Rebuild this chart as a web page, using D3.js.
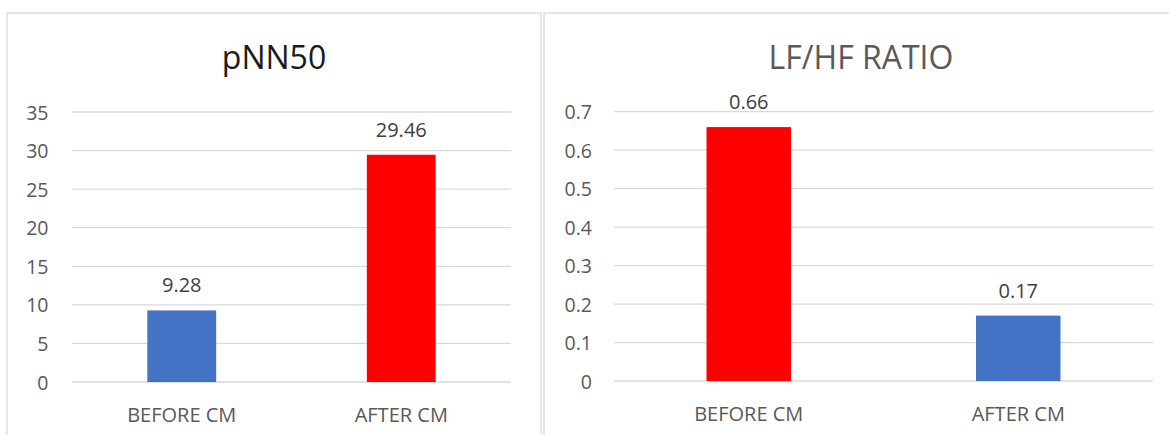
<!DOCTYPE html>
<html>
<head>
<meta charset="utf-8">
<script src="https://cdn.jsdelivr.net/npm/d3@7"></script>
<style>
  html, body { margin: 0; padding: 0; background: #fff; }
  svg { display: block; }
  text { font-family: "Open Sans", "Liberation Sans", sans-serif; }
</style>
</head>
<body>
<svg id="chart" width="1169" height="435"></svg>
<script>
// ---- data ----
const categories = ["BEFORE CM", "AFTER CM"];

const pnn50Title = "pNN50";
const pnn50Values = [9.28, 29.46];
const pnn50Colors = ["#4472C4", "#FF0000"];
const pnn50Ticks = [0, 5, 10, 15, 20, 25, 30, 35];

const lfhfTitle = "LF/HF RATIO";
const lfhfValues = [0.66, 0.17];
const lfhfColors = ["#FF0000", "#4472C4"];
const lfhfTicks = [0, 0.1, 0.2, 0.3, 0.4, 0.5, 0.6, 0.7];

// ---- layout ----
const svg = d3.select("#chart");
const gridColor = "#d9d9d9";

function panel(cfg) {
  const g = svg.append("g");
  // chart border
  g.append("rect")
    .attr("x", cfg.box[0]).attr("y", cfg.box[1])
    .attr("width", cfg.box[2]).attr("height", cfg.box[3])
    .attr("fill", "#fff").attr("stroke", gridColor).attr("stroke-width", 1.3);

  // Excel style: bar width = band / (1 + gap width 219%)
  const xb = d3.scaleBand().domain(categories).range(cfg.xr).padding(0);
  const barW = xb.bandwidth() / 3.19;
  const y = d3.scaleLinear().domain([0, d3.max(cfg.ticks)]).range(cfg.yr);

  // gridlines
  g.append("g").selectAll("line").data(cfg.ticks).join("line")
    .attr("x1", cfg.xr[0]).attr("x2", cfg.xr[1])
    .attr("y1", d => y(d)).attr("y2", d => y(d))
    .attr("stroke", gridColor).attr("stroke-width", 1.3);

  // y axis labels
  const yAxis = d3.axisLeft(y).tickValues(cfg.ticks).tickSize(0).tickPadding(0).tickFormat(cfg.fmt);
  const ya = g.append("g").attr("transform", `translate(${cfg.ylabX},0)`).call(yAxis);
  ya.select(".domain").remove();
  ya.selectAll("text")
    .attr("fill", "#595959").attr("font-size", "19.5px")
    .attr("font-family", '"Open Sans", "Liberation Sans", sans-serif')
    .attr("dy", "0.36em");

  // bars
  g.append("g").selectAll("rect").data(cfg.values).join("rect")
    .attr("x", (d, i) => xb(categories[i]) + xb.bandwidth() / 2 - barW / 2)
    .attr("width", barW)
    .attr("y", d => y(d))
    .attr("height", d => y(0) - y(d))
    .attr("fill", (d, i) => cfg.colors[i]);

  // data labels
  g.append("g").selectAll("text").data(cfg.values).join("text")
    .attr("x", (d, i) => xb(categories[i]) + xb.bandwidth() / 2)
    .attr("y", d => y(d) - 18)
    .attr("text-anchor", "middle")
    .attr("fill", "#404040").attr("font-size", "20px")
    .text(d => d3.format(".2f")(d));

  // x axis labels
  const xAxis = d3.axisBottom(xb).tickSize(0).tickPadding(0);
  const xa = g.append("g").attr("transform", `translate(0,${cfg.xlabY})`).call(xAxis);
  xa.select(".domain").remove();
  xa.selectAll("text")
    .attr("fill", "#595959").attr("font-size", "20px")
    .attr("font-family", '"Open Sans", "Liberation Sans", sans-serif')
    .attr("dy", 0);

  // title
  g.append("text")
    .attr("x", cfg.titleX).attr("y", 69)
    .attr("text-anchor", "middle")
    .attr("fill", cfg.titleColor).attr("font-size", "32px")
    .text(cfg.title);
}

panel({
  box: [7, 13, 534, 440],
  xr: [72, 511], yr: [382, 112],
  ticks: pnn50Ticks, values: pnn50Values, colors: pnn50Colors,
  fmt: d3.format("d"), ylabX: 48.5, xlabY: 421.5,
  title: pnn50Title, titleX: 274, titleColor: "#1a1a1a"
});

panel({
  box: [544, 13, 640, 440],
  xr: [614, 1153], yr: [381, 111.7],
  ticks: lfhfTicks, values: lfhfValues, colors: lfhfColors,
  fmt: d => d === 0 ? "0" : d3.format(".1f")(d), ylabX: 592, xlabY: 420.5,
  title: lfhfTitle, titleX: 861, titleColor: "#595959"
});
</script>
</body>
</html>
